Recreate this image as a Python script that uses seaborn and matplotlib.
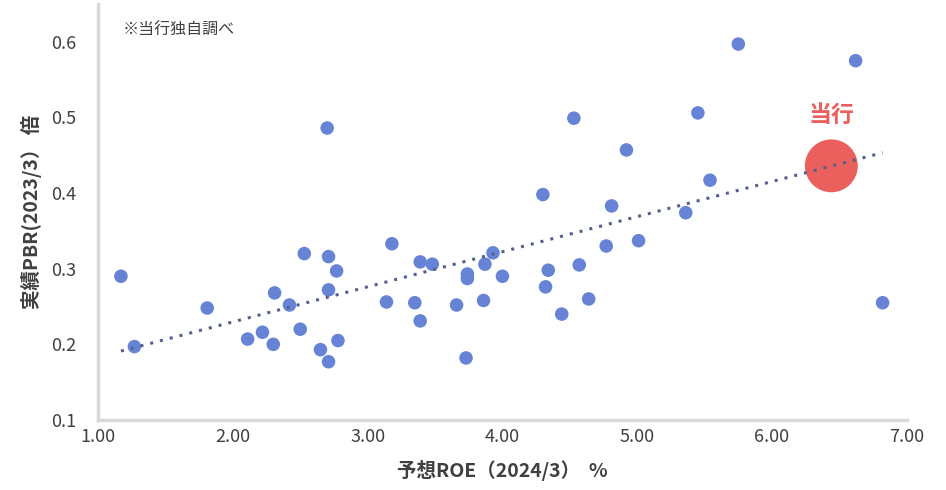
import numpy as np
import pandas as pd
import matplotlib
matplotlib.use("Agg")
import matplotlib.pyplot as plt
import seaborn as sns

# 予想ROE(2024/3) と 実績PBR(2023/3)
roe = [1.17, 1.27, 1.81, 2.11, 2.22, 2.31, 2.30, 2.42, 2.50, 2.53,
       2.65, 2.70, 2.71, 2.71, 2.77, 2.78, 2.71, 3.14, 3.18, 3.35,
       3.39, 3.39, 3.48, 3.66, 3.73, 3.74, 3.74, 3.86, 3.87, 3.93,
       4.00, 4.30, 4.32, 4.34, 4.44, 4.53, 4.57, 4.64, 4.77, 4.81,
       4.92, 5.01, 5.36, 5.45, 5.54, 5.75, 6.62, 6.82]
pbr = [0.290, 0.197, 0.248, 0.207, 0.216, 0.268, 0.200, 0.252, 0.220, 0.320,
       0.193, 0.486, 0.316, 0.272, 0.297, 0.205, 0.177, 0.256, 0.333, 0.255,
       0.309, 0.231, 0.306, 0.252, 0.182, 0.293, 0.287, 0.258, 0.306, 0.321,
       0.290, 0.398, 0.276, 0.298, 0.240, 0.499, 0.305, 0.260, 0.330, 0.383,
       0.457, 0.337, 0.374, 0.506, 0.417, 0.597, 0.575, 0.255]
own_roe = [6.44]
own_pbr = [0.436]

xticks = [1, 2, 3, 4, 5, 6, 7]
yticks = [0.1, 0.2, 0.3, 0.4, 0.5, 0.6]

df = pd.DataFrame({"roe": roe, "pbr": pbr})
all_df = pd.DataFrame({"roe": roe + own_roe, "pbr": pbr + own_pbr})

sns.set_style("white")
plt.rcParams["font.family"] = ["Noto Sans CJK JP", "DejaVu Sans"]

fig = plt.figure(figsize=(9.46, 4.9), dpi=100)
ax = fig.add_axes([0.1036, 0.1429, 0.855, 0.849])

sns.scatterplot(data=df, x="roe", y="pbr", s=95, color="#6683d6",
                edgecolor="none", ax=ax, zorder=2)
sns.scatterplot(x=own_roe, y=own_pbr, s=1450, color="#eb5f5c",
                edgecolor="none", ax=ax, zorder=3)
sns.regplot(data=all_df, x="roe", y="pbr", scatter=False, ci=None, ax=ax,
            line_kws={"color": "#55628c", "linestyle": (0, (1, 2.3)),
                      "linewidth": 2.2, "zorder": 4})

ax.text(own_roe[0], own_pbr[0] + 0.067, "当行", color="#eb5f5c",
        fontsize=16.5, fontweight="bold", ha="center", va="center")
ax.text(0.03, 0.937, "※当行独自調べ", transform=ax.transAxes,
        fontsize=11.5, color="#404040", ha="left", va="center")

ax.set_xlim(1, 7)
ax.set_ylim(0.1, 0.65)
ax.set_xticks(xticks)
ax.set_xticklabels([f"{v:.2f}" for v in xticks])
ax.set_yticks(yticks)
ax.set_yticklabels([f"{v:.1f}" for v in yticks])
ax.tick_params(axis="both", length=0, labelsize=13, colors="#404040")
ax.tick_params(axis="x", pad=6)
ax.tick_params(axis="y", pad=16)

for side in ["top", "right"]:
    ax.spines[side].set_visible(False)
for side in ["left", "bottom"]:
    ax.spines[side].set_color("#d9d9d9")
    ax.spines[side].set_linewidth(2.5)

ax.set_xlabel("予想ROE（2024/3）  %", fontsize=14, fontweight="bold",
              color="#404040", labelpad=10)
ax.set_ylabel("実績PBR(2023/3） 倍", fontsize=14, fontweight="bold",
              color="#404040", labelpad=6)

plt.savefig("out.png", dpi=100)
